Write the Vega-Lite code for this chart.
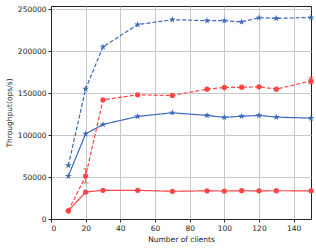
{
  "$schema": "https://vega.github.io/schema/vega-lite/v6.json",
  "width": 260,
  "height": 213,
  "autosize": {"type": "none"},
  "padding": {"left": 51, "top": 6, "right": 5, "bottom": 31},
  "config": {
    "font": "DejaVu Sans",
    "view": {"stroke": "#222", "strokeWidth": 1},
    "axis": {
      "labelFont": "DejaVu Sans", "titleFont": "DejaVu Sans",
      "labelFontSize": 7.5, "titleFontSize": 7.5, "titleFontWeight": "normal",
      "labelColor": "#222", "titleColor": "#222",
      "gridColor": "#c8c8c8", "gridWidth": 1,
      "domainColor": "#222", "tickColor": "#222", "tickSize": 3,
      "labelPadding": 2
    }
  },
  "data": {
    "values": [
      {"x": 10, "y": 63900, "group": "blue", "style": "dashed"},
      {"x": 20, "y": 155200, "group": "blue", "style": "dashed"},
      {"x": 30, "y": 205200, "group": "blue", "style": "dashed"},
      {"x": 50, "y": 231800, "group": "blue", "style": "dashed"},
      {"x": 70, "y": 237700, "group": "blue", "style": "dashed"},
      {"x": 90, "y": 236500, "group": "blue", "style": "dashed"},
      {"x": 100, "y": 236500, "group": "blue", "style": "dashed"},
      {"x": 110, "y": 235000, "group": "blue", "style": "dashed"},
      {"x": 120, "y": 240000, "group": "blue", "style": "dashed"},
      {"x": 130, "y": 239300, "group": "blue", "style": "dashed"},
      {"x": 150, "y": 240300, "group": "blue", "style": "dashed"},
      {"x": 10, "y": 51200, "group": "blue", "style": "solid"},
      {"x": 20, "y": 101600, "group": "blue", "style": "solid"},
      {"x": 30, "y": 112700, "group": "blue", "style": "solid"},
      {"x": 50, "y": 122300, "group": "blue", "style": "solid"},
      {"x": 70, "y": 126700, "group": "blue", "style": "solid"},
      {"x": 90, "y": 123500, "group": "blue", "style": "solid"},
      {"x": 100, "y": 121100, "group": "blue", "style": "solid"},
      {"x": 110, "y": 122600, "group": "blue", "style": "solid"},
      {"x": 120, "y": 123500, "group": "blue", "style": "solid"},
      {"x": 130, "y": 121500, "group": "blue", "style": "solid"},
      {"x": 150, "y": 120300, "group": "blue", "style": "solid"},
      {"x": 10, "y": 9800, "group": "red", "style": "dashed"},
      {"x": 20, "y": 51200, "group": "red", "style": "dashed", "lo": 43000, "hi": 60000},
      {"x": 30, "y": 142100, "group": "red", "style": "dashed"},
      {"x": 50, "y": 148100, "group": "red", "style": "dashed"},
      {"x": 70, "y": 147300, "group": "red", "style": "dashed"},
      {"x": 90, "y": 154800, "group": "red", "style": "dashed"},
      {"x": 100, "y": 156800, "group": "red", "style": "dashed"},
      {"x": 110, "y": 157100, "group": "red", "style": "dashed"},
      {"x": 120, "y": 157600, "group": "red", "style": "dashed"},
      {"x": 130, "y": 154800, "group": "red", "style": "dashed"},
      {"x": 150, "y": 164700, "group": "red", "style": "dashed", "lo": 161000, "hi": 169000},
      {"x": 10, "y": 9800, "group": "red", "style": "solid"},
      {"x": 20, "y": 32100, "group": "red", "style": "solid"},
      {"x": 30, "y": 34200, "group": "red", "style": "solid"},
      {"x": 50, "y": 34200, "group": "red", "style": "solid"},
      {"x": 70, "y": 33000, "group": "red", "style": "solid"},
      {"x": 90, "y": 33600, "group": "red", "style": "solid"},
      {"x": 100, "y": 33300, "group": "red", "style": "solid"},
      {"x": 110, "y": 33700, "group": "red", "style": "solid"},
      {"x": 120, "y": 33600, "group": "red", "style": "solid"},
      {"x": 130, "y": 33700, "group": "red", "style": "solid"},
      {"x": 150, "y": 33600, "group": "red", "style": "solid"}
    ]
  },
  "encoding": {
    "x": {
      "field": "x", "type": "quantitative",
      "scale": {"domain": [0, 150], "nice": false},
      "axis": {"title": "Number of clients", "values": [0, 20, 40, 60, 80, 100, 120, 140], "titlePadding": 4}
    }
  },
  "layer": [
    {
      "mark": {"type": "line", "strokeWidth": 1.2},
      "encoding": {
        "y": {
          "field": "y", "type": "quantitative", "title": "Throughput(ops/s)",
          "scale": {"domain": [0, 254000], "nice": false},
          "axis": {"values": [0, 50000, 100000, 150000, 200000, 250000], "format": "d", "titlePadding": 4}
        },
        "color": {"field": "group", "type": "nominal", "scale": {"domain": ["blue", "red"], "range": ["#3c68bd", "#ff4646"]}, "legend": null},
        "strokeDash": {"field": "style", "type": "nominal", "scale": {"domain": ["dashed", "solid"], "range": [[4, 2], [1, 0]]}, "legend": null},
        "detail": {"field": "style"}
      }
    },
    {
      "transform": [{"filter": "datum.group === 'blue'"}],
      "mark": {"type": "point", "filled": true, "opacity": 1, "size": 50,
               "shape": "M0,-1L0.2245,-0.309L0.9511,-0.309L0.3633,0.118L0.5878,0.809L0,0.382L-0.5878,0.809L-0.3633,0.118L-0.9511,-0.309L-0.2245,-0.309Z"},
      "encoding": {
        "y": {"field": "y", "type": "quantitative", "title": "Throughput(ops/s)"},
        "color": {"field": "group", "type": "nominal", "legend": null}
      }
    },
    {
      "transform": [{"filter": "datum.group === 'red'"}],
      "mark": {"type": "point", "filled": true, "opacity": 1, "size": 28, "shape": "circle"},
      "encoding": {
        "y": {"field": "y", "type": "quantitative", "title": "Throughput(ops/s)"},
        "color": {"field": "group", "type": "nominal", "legend": null}
      }
    },
    {
      "transform": [{"filter": "isValid(datum.lo)"}],
      "mark": {"type": "errorbar", "ticks": {"size": 5}, "rule": {"strokeWidth": 1}},
      "encoding": {
        "y": {"field": "lo", "type": "quantitative", "title": "Throughput(ops/s)"},
        "y2": {"field": "hi"},
        "color": {"value": "#ff4646"}
      }
    }
  ]
}
